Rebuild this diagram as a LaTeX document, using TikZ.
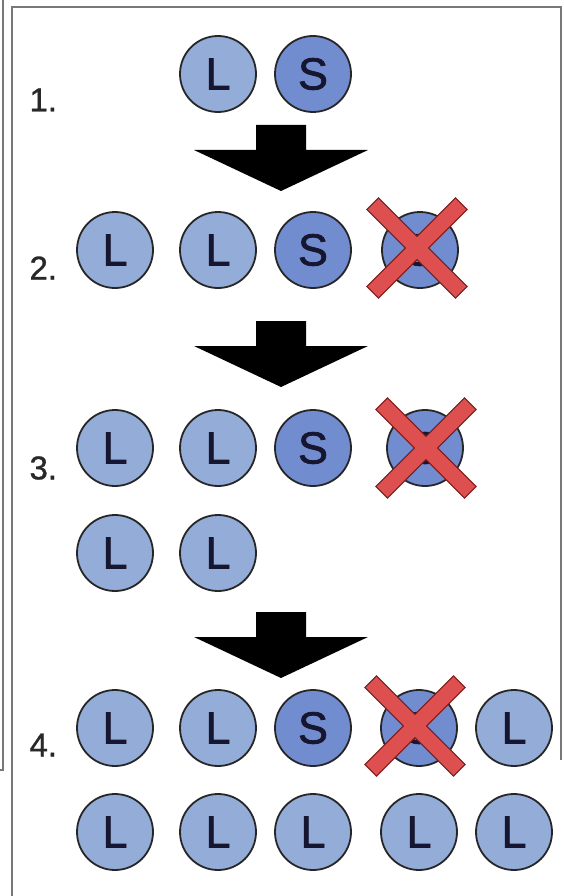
\documentclass[tikz,border=0pt]{standalone}
\usepackage{fontspec}
\setmainfont{Liberation Sans}
\newfontfamily\discfont[FakeBold=1.6]{Liberation Sans}
\newfontfamily\labfont[FakeBold=0.9]{Liberation Sans}
\definecolor{lblue}{RGB}{148,172,216}
\definecolor{sblue}{RGB}{114,140,208}
\definecolor{letter}{RGB}{22,22,48}
\definecolor{labgray}{RGB}{40,40,40}
\definecolor{xred}{RGB}{222,80,80}
\definecolor{xdark}{RGB}{120,30,30}
\definecolor{framegray}{RGB}{120,120,120}
\newcommand\fatarrow[2]{%
  \fill[black] (#1-25,#2) -- (#1+25,#2) -- (#1+25,#2+25) -- (#1+87,#2+25)
    -- (#1,#2+66) -- (#1-87,#2+25) -- (#1-25,#2+25) -- cycle;}
\begin{document}
\begin{tikzpicture}[x=1pt,y=-1pt,
  disc/.style={circle, draw=black!85, line width=1.8pt, minimum size=76pt,
    inner sep=0pt, font=\discfont\fontsize{45}{45}\selectfont, text=letter},
  lo/.style={disc, fill=lblue},
  so/.style={disc, fill=sblue},
  lab/.style={font=\labfont\fontsize{33}{33}\selectfont, text=labgray, anchor=west},
  xbarline/.style={rectangle, minimum width=124pt, minimum height=15pt,
    inner sep=0pt, draw=xdark, line width=2.4pt},
  xbarfill/.style={rectangle, minimum width=124pt, minimum height=15pt,
    inner sep=0pt, fill=xred},
  framel/.style={draw=framegray, line width=1.2pt}]
\useasboundingbox (0,0) rectangle (563,896);
\fill[white] (0,0) rectangle (563,896);
% frame
\coordinate (ftl) at (12,7);
\coordinate (ftr) at (561,7);
\coordinate (fbr) at (561,760);
\coordinate (fbl) at (12,896);
\draw[framel] (fbl) -- (ftl) -- (ftr) -- (fbr);
\coordinate (otl) at (3,0);
\coordinate (obl) at (3,770);
\coordinate (obe) at (0,770);
\draw[framel] (otl) -- (obl) -- (obe);
% step 1
\node[lab] (l1) at (26,100) {1.};
\node[lo] (a1) at (218,74) {L};
\node[so] (a2) at (313,74) {S};
\fatarrow{281}{125}
% step 2
\node[lab] (l2) at (26,268) {2.};
\node[lo] (b1) at (115,250) {L};
\node[lo] (b2) at (218,250) {L};
\node[so] (b3) at (313,250) {S};
\node[so] (b4) at (420,250) {S};
\node[xbarline, rotate=45] (bx1) at (417,248) {};
\node[xbarline, rotate=-45] (bx2) at (417,248) {};
\node[xbarfill, rotate=45] (bx3) at (417,248) {};
\node[xbarfill, rotate=-45] (bx4) at (417,248) {};
\fatarrow{281}{321}
% step 3
\node[lab] (l3) at (26,468) {3.};
\node[lo] (c1) at (115,448) {L};
\node[lo] (c2) at (218,448) {L};
\node[so] (c3) at (313,448) {S};
\node[so] (c4) at (425,448) {S};
\node[xbarline, rotate=45] (cx1) at (426,448) {};
\node[xbarline, rotate=-45] (cx2) at (426,448) {};
\node[xbarfill, rotate=45] (cx3) at (426,448) {};
\node[xbarfill, rotate=-45] (cx4) at (426,448) {};
\node[lo] (c5) at (115,553) {L};
\node[lo] (c6) at (218,553) {L};
\fatarrow{281}{612}
% step 4
\node[lab] (l4) at (26,745) {4.};
\node[lo] (d1) at (115,728) {L};
\node[lo] (d2) at (218,728) {L};
\node[so] (d3) at (313,728) {S};
\node[so] (d4) at (419,728) {S};
\node[xbarline, rotate=45] (dx1) at (415,726) {};
\node[xbarline, rotate=-45] (dx2) at (415,726) {};
\node[xbarfill, rotate=45] (dx3) at (415,726) {};
\node[xbarfill, rotate=-45] (dx4) at (415,726) {};
\node[lo] (d5) at (514,728) {L};
\node[lo] (e1) at (115,832) {L};
\node[lo] (e2) at (218,832) {L};
\node[lo] (e3) at (313,832) {L};
\node[lo] (e4) at (419,832) {L};
\node[lo] (e5) at (514,832) {L};
\end{tikzpicture}
\end{document}
